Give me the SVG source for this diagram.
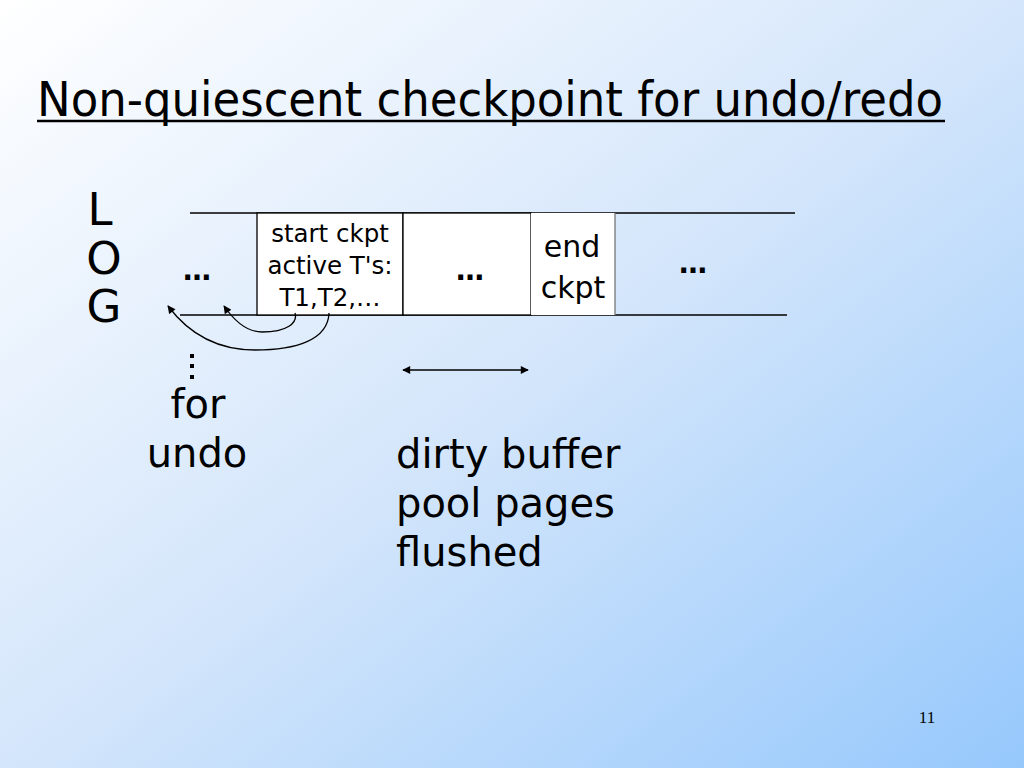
<svg xmlns="http://www.w3.org/2000/svg" width="1024" height="768" viewBox="0 0 1024 768">
<defs>
<linearGradient id="bg" x1="0" y1="0" x2="1" y2="1">
<stop offset="0" stop-color="#ffffff"/>
<stop offset="0.5" stop-color="#d4e6fb"/>
<stop offset="1" stop-color="#96c8fc"/>
</linearGradient>
<marker id="ah" viewBox="0 0 10 10" refX="9" refY="5" markerWidth="9" markerHeight="8" markerUnits="userSpaceOnUse" orient="auto-start-reverse">
<path d="M0,0 L10,5 L0,10 z" fill="#000"/>
</marker>
<style>
.t{font-family:"DejaVu Sans","Liberation Sans",sans-serif;fill:#000}
.big{font-size:40px}
.box{font-size:24.5px}
.dots{font-size:28px;font-weight:bold}
.cell{fill:#fff;stroke:#000;stroke-width:1.3}
.ln{stroke:#000;stroke-width:1.3;fill:none}
</style>
</defs>
<rect width="1024" height="768" fill="url(#bg)"/>
<g id="title">
<text class="t" x="37" y="116" font-size="48" textLength="906" lengthAdjust="spacingAndGlyphs">Non-quiescent checkpoint for undo/redo</text>
<line x1="37" y1="121" x2="945" y2="121" stroke="#000" stroke-width="2.5"/>
</g>
<g id="log-label" class="t" font-size="45" text-anchor="middle">
<text x="100" y="225">L</text>
<text x="104" y="274">O</text>
<text x="104" y="322">G</text>
</g>
<g id="log">
<line class="ln" x1="190" y1="213" x2="795" y2="213"/>
<line class="ln" x1="180" y1="315" x2="787" y2="315"/>
<text class="t dots" x="197" y="280" text-anchor="middle">…</text>
</g>
<g id="start-ckpt">
<rect class="cell" x="257" y="213" width="146" height="102"/>
<text class="t box" x="330" y="242" text-anchor="middle">start ckpt</text>
<text class="t box" x="330" y="274" text-anchor="middle">active T's:</text>
<text class="t box" x="330" y="306" text-anchor="middle">T1,T2,…</text>
</g>
<g id="middle">
<rect class="cell" x="403" y="213" width="128" height="102"/>
<text class="t dots" x="470" y="280" text-anchor="middle">…</text>
</g>
<g id="end-ckpt">
<rect x="531" y="213" width="84" height="102" fill="#fff"/>
<path d="M615,213 V315" stroke="#777" stroke-width="1.3"/>
<text class="t" x="572" y="257" font-size="30" text-anchor="middle">end</text>
<text class="t" x="573" y="298" font-size="30" text-anchor="middle">ckpt</text>
</g>
<g id="tail">
<text class="t dots" x="693" y="273" text-anchor="middle">…</text>
</g>
<g id="connectors">
<path class="ln" d="M295,313 C298,323 287,332 262,332 C246,332 233,319 224,306" marker-end="url(#ah)"/>
<path class="ln" d="M329,313 C328,340 296,350 255,350 C212,350 186,330 168,306" marker-end="url(#ah)"/>
<line class="ln" x1="403" y1="370" x2="528" y2="370" marker-start="url(#ah)" marker-end="url(#ah)"/>
</g>
<g id="dots" fill="#000">
<rect x="190" y="354" width="4" height="4"/>
<rect x="190" y="364" width="4" height="4"/>
<rect x="190" y="375" width="4" height="4"/>
</g>
<g id="for-undo" class="t big" text-anchor="middle">
<text x="198" y="418">for</text>
<text x="197" y="467">undo</text>
</g>
<g id="flushed" class="t big">
<text x="396" y="468">dirty buffer</text>
<text x="396" y="517">pool pages</text>
<text x="396" y="566">flushed</text>
</g>
<text x="927" y="723" font-family="Liberation Serif,serif" font-size="17" text-anchor="middle" fill="#000">11</text>
</svg>
